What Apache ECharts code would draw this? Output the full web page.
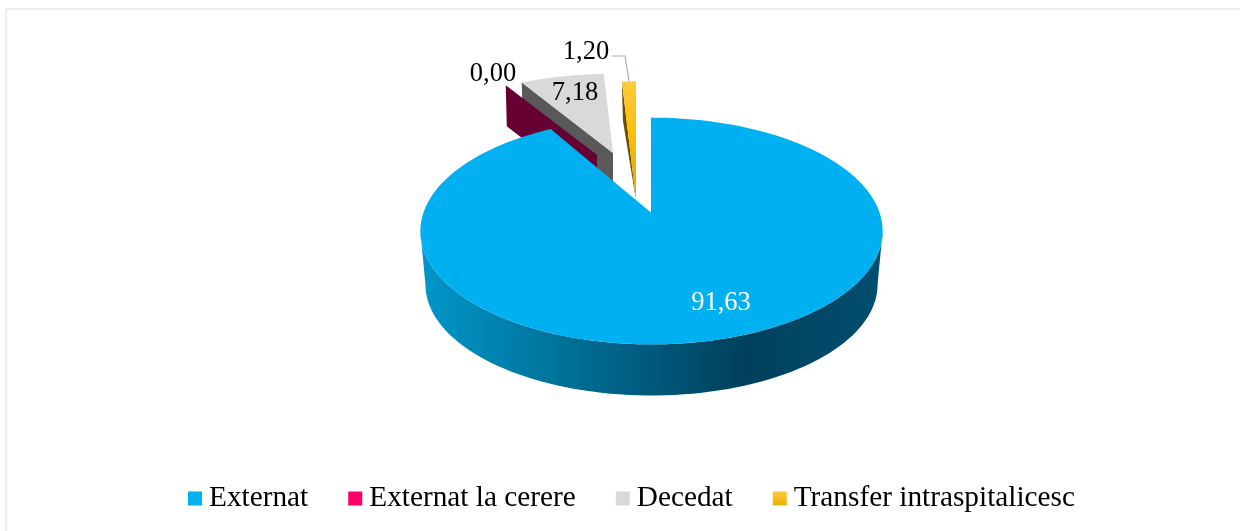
<!DOCTYPE html>
<html><head><meta charset="utf-8">
<style>html,body{margin:0;padding:0;background:#fff}#c{width:1240px;height:531px}</style>
<script src="https://cdn.jsdelivr.net/npm/echarts@6/dist/echarts.min.js"></script>
</head><body><div id="c"></div>
<script>
// ---- data ----
const categories = ['Externat', 'Externat la cerere', 'Decedat', 'Transfer intraspitalicesc'];
const values = [91.63, 0.00, 7.18, 1.20];

// ---- presentation (projection of the tilted disc, per-slice offset, colours) ----
const PERSP = 0.159, RX = 228.2, RY = 110.5;
const pieces = [
  {ax:651.5, ay:213, sx:1,     sy:1,    rot:0,   dOuter:0,  dApex:0,  face:'#00b0f0', wall:null,      label:[721,303.5], labelColor:'#fff'},
  {ax:597,   ay:155, sx:0.905, sy:0.83, rot:0,   dOuter:41, dApex:41, face:'#ff0066', wall:'#660033', label:[493,74],  labelColor:'#000', noFace:true},
  {ax:613,   ay:153, sx:0.95,  sy:0.83, rot:1.5, dOuter:41, dApex:41, face:'#d9d9d9', wall:'#595959', label:[575,93.5],  labelColor:'#000'},
  {ax:636,   ay:200, sx:0.95,  sy:1.245,rot:0,   dOuter:39, dApex:0,  face:{type:'linear',x:0,y:0,x2:0,y2:1,colorStops:[{offset:0,color:'#ffca3e'},{offset:0.4,color:'#fdbf10'},{offset:1,color:'#dca600'}]}, wall:'#6b4f00', label:[586,52], labelColor:'#000'}
];
const legendColors = ['#00b0f0', '#ff0066', '#d9d9d9',
  {type:'linear',x:0,y:0,x2:0,y2:1,colorStops:[{offset:0,color:'#ffc83c'},{offset:1,color:'#e8b300'}]}];
const mainWallFill = {type:'linear',x:0,y:0,x2:1,y2:0,colorStops:[
  {offset:0,color:'#0097c9'},{offset:0.70,color:'#00405c'},{offset:1,color:'#004e70'}]};
const FONT = '"Liberation Serif","Times New Roman",serif';

const total = values.reduce((a,b)=>a+b,0);
const starts = []; let acc = 0;
values.forEach(v=>{starts.push(acc/total*360); acc+=v;});

function project(p, deg, scale, dy){
  const t = (deg+p.rot)*Math.PI/180, u=Math.sin(t), v=Math.cos(t), w=1+PERSP*v;
  return [p.ax + RX*p.sx*scale*u/w, p.ay + (dy||0) - RY*p.sy*scale*v/w];
}
function arc(p, a0, a1, scale, dy){
  const n = Math.max(1, Math.ceil(Math.abs(a1-a0)/2)), out=[];
  for(let i=0;i<=n;i++) out.push(project(p, a0+(a1-a0)*i/n, scale, dy));
  return out;
}
function lbl(i){
  return {type:'text', z2:50, style:{text:values[i].toFixed(2).replace('.',','),
    x:pieces[i].label[0], y:pieces[i].label[1], align:'center', verticalAlign:'middle',
    font:'26.5px '+FONT, fill:pieces[i].labelColor}};
}
function renderSlice(i){
  return function(){
    const p = pieces[i], a0 = starts[i], a1 = a0 + values[i]/total*360;
    const kids = [];
    if(i===0){
      // outer wall between the two silhouette tangents, then the top face
      const tan = Math.acos(-PERSP)*180/Math.PI;
      const top = arc(p, tan, 360-tan, 1, 0), bot = arc(p, 360-tan, tan, 0.978, 54);
      kids.push({type:'polygon', shape:{points:top.concat(bot)}, style:{fill:mainWallFill}});
      kids.push({type:'polygon', shape:{points:[[p.ax,p.ay]].concat(arc(p,a0,a1,1,0))}, style:{fill:p.face}});
      const e = project(p,a0,1,0);
      kids.push({type:'line', shape:{x1:e[0],y1:e[1],x2:p.ax,y2:p.ay}, style:{stroke:'#3d93b5',lineWidth:1}});
    } else {
      const outer = project(p,a0,1,0);
      // radial wall below the leading edge
      kids.push({type:'polygon', shape:{points:[outer,[p.ax,p.ay],[p.ax,p.ay+p.dApex],[outer[0]+1,outer[1]+p.dOuter]]}, style:{fill:p.wall}});
      if(!p.noFace) kids.push({type:'polygon', shape:{points:[[p.ax,p.ay]].concat(arc(p,a0,a1,1,0))}, style:{fill:p.face}});
    }
    if(i===3){
      kids.push({type:'polyline', shape:{points:[[612,56],[625,56],[629,81]]}, style:{stroke:'#9fb0c6',lineWidth:1.2,fill:'none'}});
    }
    kids.push(lbl(i));
    return {type:'group', children:kids};
  };
}
// paint order: grey, crimson, gold, then the large slice on top
const zOrder = [4,2,1,3];
const series = categories.map((name,i)=>({
  type:'custom', name, coordinateSystem:'none', silent:true, animation:false, clip:false,
  z:zOrder[i], data:[values[i]], renderItem:renderSlice(i),
  itemStyle:{color:legendColors[i]}
}));

const chart = echarts.init(document.getElementById('c'), null, {renderer:'canvas'});
chart.setOption({
  animation:false,
  backgroundColor:'#fff',
  graphic:[
    {type:'polyline', shape:{points:[[6,531],[6,9],[1240,9]]}, style:{stroke:'#e6e8ea',lineWidth:1.5,fill:'none'}, silent:true}
  ],
  legend:{
    data:categories.map((n,i)=>({name:n, icon:'rect', itemStyle:{color:legendColors[i]}})),
    left:188, top:484, itemWidth:14, itemHeight:14, itemGap:40, padding:0,
    textStyle:{fontFamily:FONT, fontSize:29.3, color:'#000', padding:[0,0,0,2]},
    selectedMode:false
  },
  series
});
</script></body></html>
